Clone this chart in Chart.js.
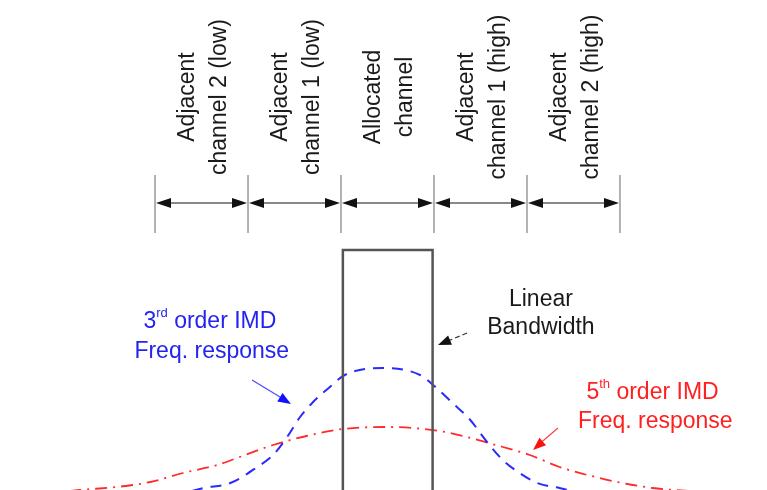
<!DOCTYPE html>
<html>
<head>
<meta charset="utf-8">
<script src="https://cdn.jsdelivr.net/npm/chart.js@4"></script>
<style>
  body { margin: 0; background: #fff; }
  canvas { display: block; }
</style>
</head>
<body>
<canvas id="myChart" width="767" height="490"></canvas>
<script>
// x = frequency offset in channel widths, y = relative level
const channelEdges = [-2.5, -1.5, -0.5, 0.5, 1.5, 2.5];
const channelLabels = [
  ["Adjacent", "channel 2 (low)"],
  ["Adjacent", "channel 1 (low)"],
  ["Allocated", "channel"],
  ["Adjacent", "channel 1 (high)"],
  ["Adjacent", "channel 2 (high)"],
];

// linear bandwidth box
const boxX = [-0.48, -0.48, 0.485, 0.485];
const boxY = [-10, 240, 240, -10];

// 3rd order IMD
const imd3X = [-2.3, -1.98, -1.69, -1.4, -1.23, -1.08, -0.94, -0.8, -0.62, -0.46, -0.05, 0.35, 0.49, 0.7, 0.89, 1.07, 1.24, 1.42, 1.61, 1.85, 2.2];
const imd3Y = [-6, 2, 7, 23, 35, 53, 73, 88, 103, 115, 122, 115, 105, 87, 70, 48, 30, 17, 7, 2, -6];

// 5th order IMD
const imd5X = [-3.7, -3.31, -2.91, -2.55, -2.2, -1.83, -1.59, -1.23, -0.87, -0.48, 0, 0.56, 0.89, 1.24, 1.53, 1.85, 2.15, 2.47, 2.85, 3.25, 3.6];
const imd5Y = [-4, 0, 3, 8, 17, 25, 33, 45, 54, 61, 63, 59, 52, 43, 35, 23, 15, 8, 2, -1, -3];

const pts = (xs, ys) => xs.map((x, i) => ({ x: x, y: ys[i] }));

const FONT = '23px "Liberation Sans", Arial, sans-serif';
const SUPFONT = '13px "Liberation Sans", Arial, sans-serif';

function arrowHead(ctx, x0, y0, x1, y1, len, half, color) {
  const a = Math.atan2(y1 - y0, x1 - x0);
  ctx.save();
  ctx.fillStyle = color;
  ctx.beginPath();
  ctx.moveTo(x1, y1);
  ctx.lineTo(x1 - len * Math.cos(a) + half * Math.sin(a), y1 - len * Math.sin(a) - half * Math.cos(a));
  ctx.lineTo(x1 - len * Math.cos(a) - half * Math.sin(a), y1 - len * Math.sin(a) + half * Math.cos(a));
  ctx.closePath();
  ctx.fill();
  ctx.restore();
}

function supText(ctx, base, sup, rest, cx, cy, color) {
  ctx.save();
  ctx.fillStyle = color;
  ctx.textBaseline = "middle";
  ctx.textAlign = "left";
  ctx.font = FONT;
  const w1 = ctx.measureText(base).width, w3 = ctx.measureText(rest).width;
  ctx.font = SUPFONT;
  const w2 = ctx.measureText(sup).width;
  let x = cx - (w1 + w2 + w3) / 2;
  ctx.font = FONT;
  ctx.fillText(base, x, cy);
  x += w1;
  ctx.font = SUPFONT;
  ctx.fillText(sup, x, cy - 9);
  x += w2;
  ctx.font = FONT;
  ctx.fillText(rest, x, cy);
  ctx.restore();
}

const annotations = {
  id: "annotations",
  afterDatasetsDraw(chart) {
    const ctx = chart.ctx;
    const px = v => chart.scales.x.getPixelForValue(v);
    const py = v => chart.scales.y.getPixelForValue(v);

    // channel edge ticks
    ctx.save();
    ctx.strokeStyle = "#999";
    ctx.lineWidth = 1.5;
    channelEdges.forEach(e => {
      ctx.beginPath();
      ctx.moveTo(px(e), py(315));
      ctx.lineTo(px(e), py(257));
      ctx.stroke();
    });
    // double arrows
    const ay = py(287);
    for (let i = 0; i < channelEdges.length - 1; i++) {
      const a = px(channelEdges[i]) + 1, b = px(channelEdges[i + 1]) - 1;
      ctx.strokeStyle = "#888";
      ctx.lineWidth = 2;
      ctx.beginPath();
      ctx.moveTo(a + 8, ay);
      ctx.lineTo(b - 8, ay);
      ctx.stroke();
      arrowHead(ctx, b, ay, a, ay, 15, 5, "#111");
      arrowHead(ctx, a, ay, b, ay, 15, 5, "#111");
    }
    ctx.restore();

    // rotated channel labels
    ctx.save();
    ctx.fillStyle = "#1a1a1a";
    ctx.font = FONT;
    ctx.textAlign = "center";
    ctx.textBaseline = "middle";
    channelLabels.forEach((lines, i) => {
      const cx = px((channelEdges[i] + channelEdges[i + 1]) / 2) + 2;
      ctx.save();
      ctx.translate(cx, py(393));
      ctx.rotate(-Math.PI / 2);
      ctx.fillText(lines[0], 0, -16);
      ctx.fillText(lines[1], 0, 16);
      ctx.restore();
    });
    ctx.restore();

    // Linear bandwidth
    ctx.save();
    ctx.fillStyle = "#1a1a1a";
    ctx.font = FONT;
    ctx.textAlign = "center";
    ctx.textBaseline = "middle";
    ctx.fillText("Linear", px(1.65), py(190));
    ctx.fillText("Bandwidth", px(1.65), py(162));
    ctx.strokeStyle = "#333";
    ctx.lineWidth = 1.2;
    ctx.setLineDash([5, 3]);
    ctx.beginPath();
    ctx.moveTo(px(0.855), py(157));
    ctx.lineTo(px(0.6), py(147));
    ctx.stroke();
    ctx.setLineDash([]);
    arrowHead(ctx, px(0.855), py(157), px(0.543), py(145), 13, 5, "#111");
    ctx.restore();

    // 3rd order label + arrow
    supText(ctx, "3", "rd", " order IMD", px(-1.91), py(168), "#2424f0");
    ctx.save();
    ctx.fillStyle = "#2424f0";
    ctx.font = FONT;
    ctx.textAlign = "center";
    ctx.textBaseline = "middle";
    ctx.fillText("Freq. response", px(-1.89), py(138));
    ctx.strokeStyle = "#4a4aff";
    ctx.lineWidth = 1.2;
    ctx.beginPath();
    ctx.moveTo(px(-1.457), py(110));
    ctx.lineTo(px(-1.12), py(91));
    ctx.stroke();
    arrowHead(ctx, px(-1.457), py(110), px(-1.038), py(86), 13, 5, "#1010ff");
    ctx.restore();

    // 5th order label + arrow
    supText(ctx, "5", "th", " order IMD", px(2.85), py(97), "#ff2020");
    ctx.save();
    ctx.fillStyle = "#ff2020";
    ctx.font = FONT;
    ctx.textAlign = "center";
    ctx.textBaseline = "middle";
    ctx.fillText("Freq. response", px(2.88), py(68));
    ctx.strokeStyle = "#ff4040";
    ctx.lineWidth = 1.2;
    ctx.beginPath();
    ctx.moveTo(px(1.833), py(62));
    ctx.lineTo(px(1.62), py(45));
    ctx.stroke();
    arrowHead(ctx, px(1.833), py(62), px(1.565), py(40), 13, 5, "#ff1010");
    ctx.restore();
  },
};

new Chart(document.getElementById("myChart"), {
  type: "scatter",
  data: {
    datasets: [
      {
        label: "Linear bandwidth",
        data: pts(boxX, boxY),
        showLine: true,
        borderColor: "#555",
        borderWidth: 2.5,
        pointRadius: 0,
        tension: 0,
        order: 0,
      },
      {
        label: "3rd order IMD",
        data: pts(imd3X, imd3Y),
        showLine: true,
        borderColor: "#2a2aff",
        borderWidth: 2,
        borderDash: [11, 8],
        pointRadius: 0,
        cubicInterpolationMode: "monotone",
        order: 1,
      },
      {
        label: "5th order IMD",
        data: pts(imd5X, imd5Y),
        showLine: true,
        borderColor: "#ff2a2a",
        borderWidth: 1.8,
        borderDash: [12, 6, 2, 6],
        pointRadius: 0,
        cubicInterpolationMode: "monotone",
        order: 2,
      },
    ],
  },
  options: {
    responsive: false,
    animation: false,
    layout: { padding: 0 },
    scales: {
      x: { type: "linear", min: -4.167, max: 4.081, display: false },
      y: { type: "linear", min: 0, max: 490, display: false },
    },
    plugins: {
      legend: { display: false },
      tooltip: { enabled: false },
    },
  },
  plugins: [annotations],
});
</script>
</body>
</html>
